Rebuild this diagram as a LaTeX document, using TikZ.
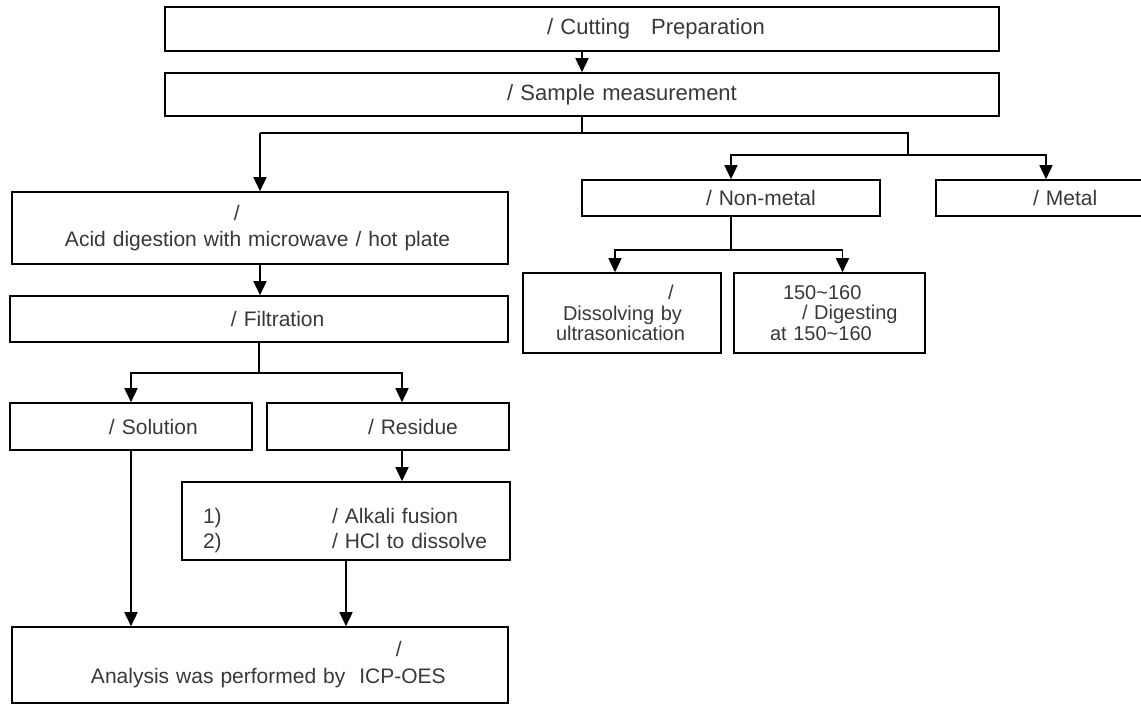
\documentclass[tikz,border=0pt]{standalone}
\usepackage{fontspec}
\setmainfont{Liberation Sans}
\usetikzlibrary{arrows.meta}
\begin{document}
\begin{tikzpicture}[x=1pt,y=-1pt,
  box/.style={draw=black, line width=1.6pt, inner sep=0pt, align=left, text=black!78,
    font=\fontsize{21}{26}\selectfont},
  arr/.style={line width=1.6pt, -{Triangle[width=13pt,length=14pt]}},
  ln/.style={line width=1.6pt}]
\useasboundingbox (0,0) rectangle (1141,704);
% top
\node[box, text width=834pt, minimum height=44pt, font=\fontsize{22}{26}\selectfont] (cut) at (582,29)
  {\hspace*{382pt}/ Cutting\hspace*{21pt}Preparation};
\node[box, text width=834pt, minimum height=43pt, font=\fontsize{22}{26}\selectfont] (meas) at (582,94.5)
  {\hspace*{342pt}/ Sample measurement};
% left column
\node[box, text width=496pt, minimum height=72pt] (acid) at (260,228)
  {\hspace*{222pt}/\\\hspace*{53pt}Acid digestion with microwave / hot plate};
\node[box, text width=498pt, minimum height=46pt] (filt) at (259,319)
  {\hspace*{221pt}/ Filtration};
\node[box, text width=242pt, minimum height=47pt] (sol) at (131,426.5)
  {\hspace*{99pt}/ Solution};
\node[box, text width=242pt, minimum height=47pt] (res) at (388,426.5)
  {\hspace*{101pt}/ Residue};
\node[box, text width=328pt, minimum height=78pt, font=\fontsize{21}{25}\selectfont] (alk) at (346,521)
  {\rule{0pt}{34pt}\hspace*{21pt}\makebox[129pt][l]{1)}/ Alkali fusion\\\hspace*{21pt}\makebox[129pt][l]{2)}/ HCl to dissolve};
\node[box, text width=496pt, minimum height=76pt, font=\fontsize{21}{27}\selectfont] (fin) at (260,665)
  {\hspace*{384pt}/\\\hspace*{79pt}Analysis was performed by\ \ ICP-OES};
% right column
\node[box, text width=298pt, minimum height=36pt] (nonmetal) at (731,198)
  {\hspace*{124pt}/ Non-metal};
\node[box, text width=220pt, minimum height=36pt] (metal) at (1046,198)
  {\hspace*{97pt}/ Metal};
\node[box, text width=198pt, minimum height=80pt, font=\fontsize{20}{20.5}\selectfont] (dis) at (622,313)
  {\hspace*{145pt}/\\\hspace*{40pt}Dissolving by\\\hspace*{33pt}ultrasonication};
\node[box, text width=191pt, minimum height=80pt, font=\fontsize{20}{20.5}\selectfont] (dig) at (829.5,313)
  {\hspace*{49pt}150\textasciitilde160\\\hspace*{68pt}/ Digesting\\\hspace*{36pt}at 150\textasciitilde160};
% junctions
\coordinate (jL) at (260,133);
\coordinate (jR) at (908,133);
\coordinate (jM) at (908,155);
\coordinate (jN) at (731,250);
\coordinate (jF) at (259,373);
% connectors
\draw[arr] (cut) -- (meas);
\draw[ln] (meas.south) -- (meas.south |- jL);
\draw[ln] (jL) -- (jR) -- (jM);
\draw[arr] (jL) -- (acid.north);
\draw[arr] (jM) -| (nonmetal.north);
\draw[arr] (jM) -| (metal.north);
\draw[arr] (acid.south) -- (acid.south |- filt.north);
\draw[ln] (filt.south) -- (jF);
\draw[arr] (jF) -| (sol.north);
\draw[arr] (jF) -| ([xshift=14pt]res.north);
\draw[arr] ([xshift=14pt]res.south) -- ([xshift=14pt]res.south |- alk.north);
\draw[arr] (sol.south) -- (sol.south |- fin.north);
\draw[arr] (alk.south) -- (alk.south |- fin.north);
\draw[ln] (nonmetal.south) -- (jN);
\draw[arr] (jN) -| ([xshift=-7pt]dis.north);
\draw[arr] (jN) -| ([xshift=13pt]dig.north);
\end{tikzpicture}
\end{document}
